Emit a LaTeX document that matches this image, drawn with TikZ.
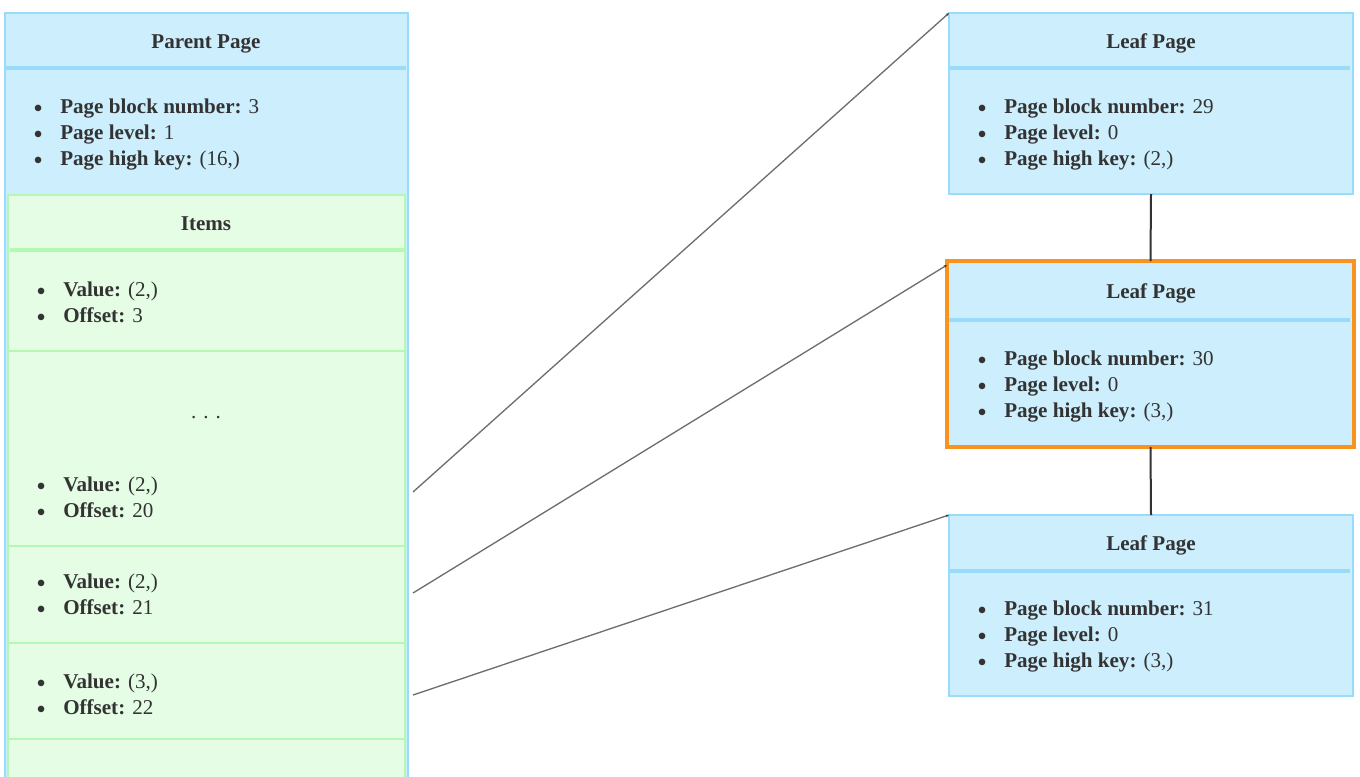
\documentclass[tikz,border=0pt]{standalone}
\usepackage{fontspec}
\setmainfont{Liberation Serif}
\usepackage{xcolor}
\usepackage{tikz}
\usetikzlibrary{arrows.meta}

\definecolor{pageblue}{HTML}{CDEEFD}
\definecolor{pageedge}{HTML}{99DBFA}
\definecolor{itemgreen}{HTML}{E4FDE4}
\definecolor{itemedge}{HTML}{B3F8B3}
\definecolor{focus}{HTML}{F7931E}
\definecolor{texte}{HTML}{333333}
\definecolor{gris}{HTML}{6E6E6E}

\newcommand{\taille}{\fontsize{15.8}{19}\selectfont}
\newcommand{\puceR}{\raisebox{-3.6pt}{\scalebox{1.3}{\textbullet}}}
% ligne de liste : nom, x, y (ligne de base), libelle gras, valeur
\newcommand{\ligne}[5]{\node[puce] (#1) at (#2,#3) {\makebox[20.25pt][l]{\puceR}\textbf{#4} #5};}

\tikzset{
    pagebox/.style={draw=pageedge, fill=pageblue, line width=1.5pt, anchor=north west, inner sep=0pt, outer sep=0pt},
    itembox/.style={draw=itemedge, fill=itemgreen, line width=1.5pt, anchor=north west, inner sep=0pt, outer sep=0pt},
    slotbox/.style={anchor=north west, inner sep=0pt, outer sep=0pt, minimum width=297.75pt},
    hdrline/.style={line width=3pt},
    titre/.style={font=\taille\bfseries, text=texte, anchor=base, inner sep=0pt},
    puce/.style={font=\taille, text=texte, anchor=base west, inner sep=0pt},
    lien/.style={draw=gris, line width=1pt, -{Stealth[length=2.5pt, width=2pt, color=texte]}},
    suite/.style={draw=texte, line width=1.5pt},
}

\begin{document}
\begin{tikzpicture}[x=0.75pt, y=-0.75pt]
    \useasboundingbox (0,0) rectangle (1360,776);
    \clip (0,0) rectangle (1360,776);

    % Page parent
    \node[pagebox, minimum width=302.25pt, minimum height=590.25pt] (parent) at (5,13) {};
    \node[titre] (parentT) at (206,48) {Parent Page};
    \draw[hdrline, pageedge] (5,68) -- (406,68);
    \ligne{pBlk}{33}{113}{Page block number:}{3}
    \ligne{pLvl}{33}{139}{Page level:}{1}
    \ligne{pKey}{33}{165}{Page high key:}{(16,)}

    % Items
    \node[itembox, minimum width=297.75pt, minimum height=453.75pt] (items) at (8,195) {};
    \node[titre] (itemsT) at (206,230) {Items};
    \draw[hdrline, itemedge] (10,250) -- (405,250);
    \node[slotbox, minimum height=74.25pt] (s1) at (8,252) {};
    \node[slotbox, minimum height=63pt] (s20) at (8,462) {};
    \node[slotbox, minimum height=72.75pt] (s21) at (8,546) {};
    \node[slotbox, minimum height=72pt] (s22) at (8,643) {};
    \foreach \s in {s1,s20,s21,s22}
        \draw[itemedge, line width=1.5pt] (\s.south west) -- (\s.south east);
    \ligne{v1}{36}{296}{Value:}{(2,)}
    \ligne{o1}{36}{322}{Offset:}{3}
    \node[puce, anchor=base] (dots) at (206,418) {. . .};
    \ligne{v20}{36}{491}{Value:}{(2,)}
    \ligne{o20}{36}{517}{Offset:}{20}
    \ligne{v21}{36}{588}{Value:}{(2,)}
    \ligne{o21}{36}{614}{Offset:}{21}
    \ligne{v22}{36}{688}{Value:}{(3,)}
    \ligne{o22}{36}{714}{Offset:}{22}

    % Pages feuilles
    \node[pagebox, minimum width=303pt, minimum height=135.75pt] (leafA) at (949,13) {};
    \node[titre] (leafAT) at (1151,48) {Leaf Page};
    \draw[hdrline, pageedge] (949,68) -- (1350,68);
    \ligne{aBlk}{977}{113}{Page block number:}{29}
    \ligne{aLvl}{977}{139}{Page level:}{0}
    \ligne{aKey}{977}{165}{Page high key:}{(2,)}

    \node[pagebox, draw=focus, line width=3pt, minimum width=305.25pt, minimum height=139.5pt] (leafB) at (947,261) {};
    \node[titre] (leafBT) at (1151,298) {Leaf Page};
    \draw[hdrline, pageedge] (949,320) -- (1350,320);
    \ligne{bBlk}{977}{365}{Page block number:}{30}
    \ligne{bLvl}{977}{391}{Page level:}{0}
    \ligne{bKey}{977}{417}{Page high key:}{(3,)}

    \node[pagebox, minimum width=303pt, minimum height=135.75pt] (leafC) at (949,515) {};
    \node[titre] (leafCT) at (1151,550) {Leaf Page};
    \draw[hdrline, pageedge] (949,571) -- (1350,571);
    \ligne{cBlk}{977}{615}{Page block number:}{31}
    \ligne{cLvl}{977}{641}{Page level:}{0}
    \ligne{cKey}{977}{667}{Page high key:}{(3,)}

    % Liens entre pages
    \coordinate (d20) at (413,492);
    \coordinate (d21) at (413,593);
    \coordinate (d22) at (413,695);
    \draw[lien] (d20) -- (leafA.north west);
    \draw[lien] (d21) -- ([yshift=-3pt]leafB.north west);
    \draw[lien] (d22) -- (leafC.north west);
    \draw[suite] (leafA.south) -- (leafB.north);
    \draw[suite] (leafB.south) -- (leafC.north);
\end{tikzpicture}
\end{document}
